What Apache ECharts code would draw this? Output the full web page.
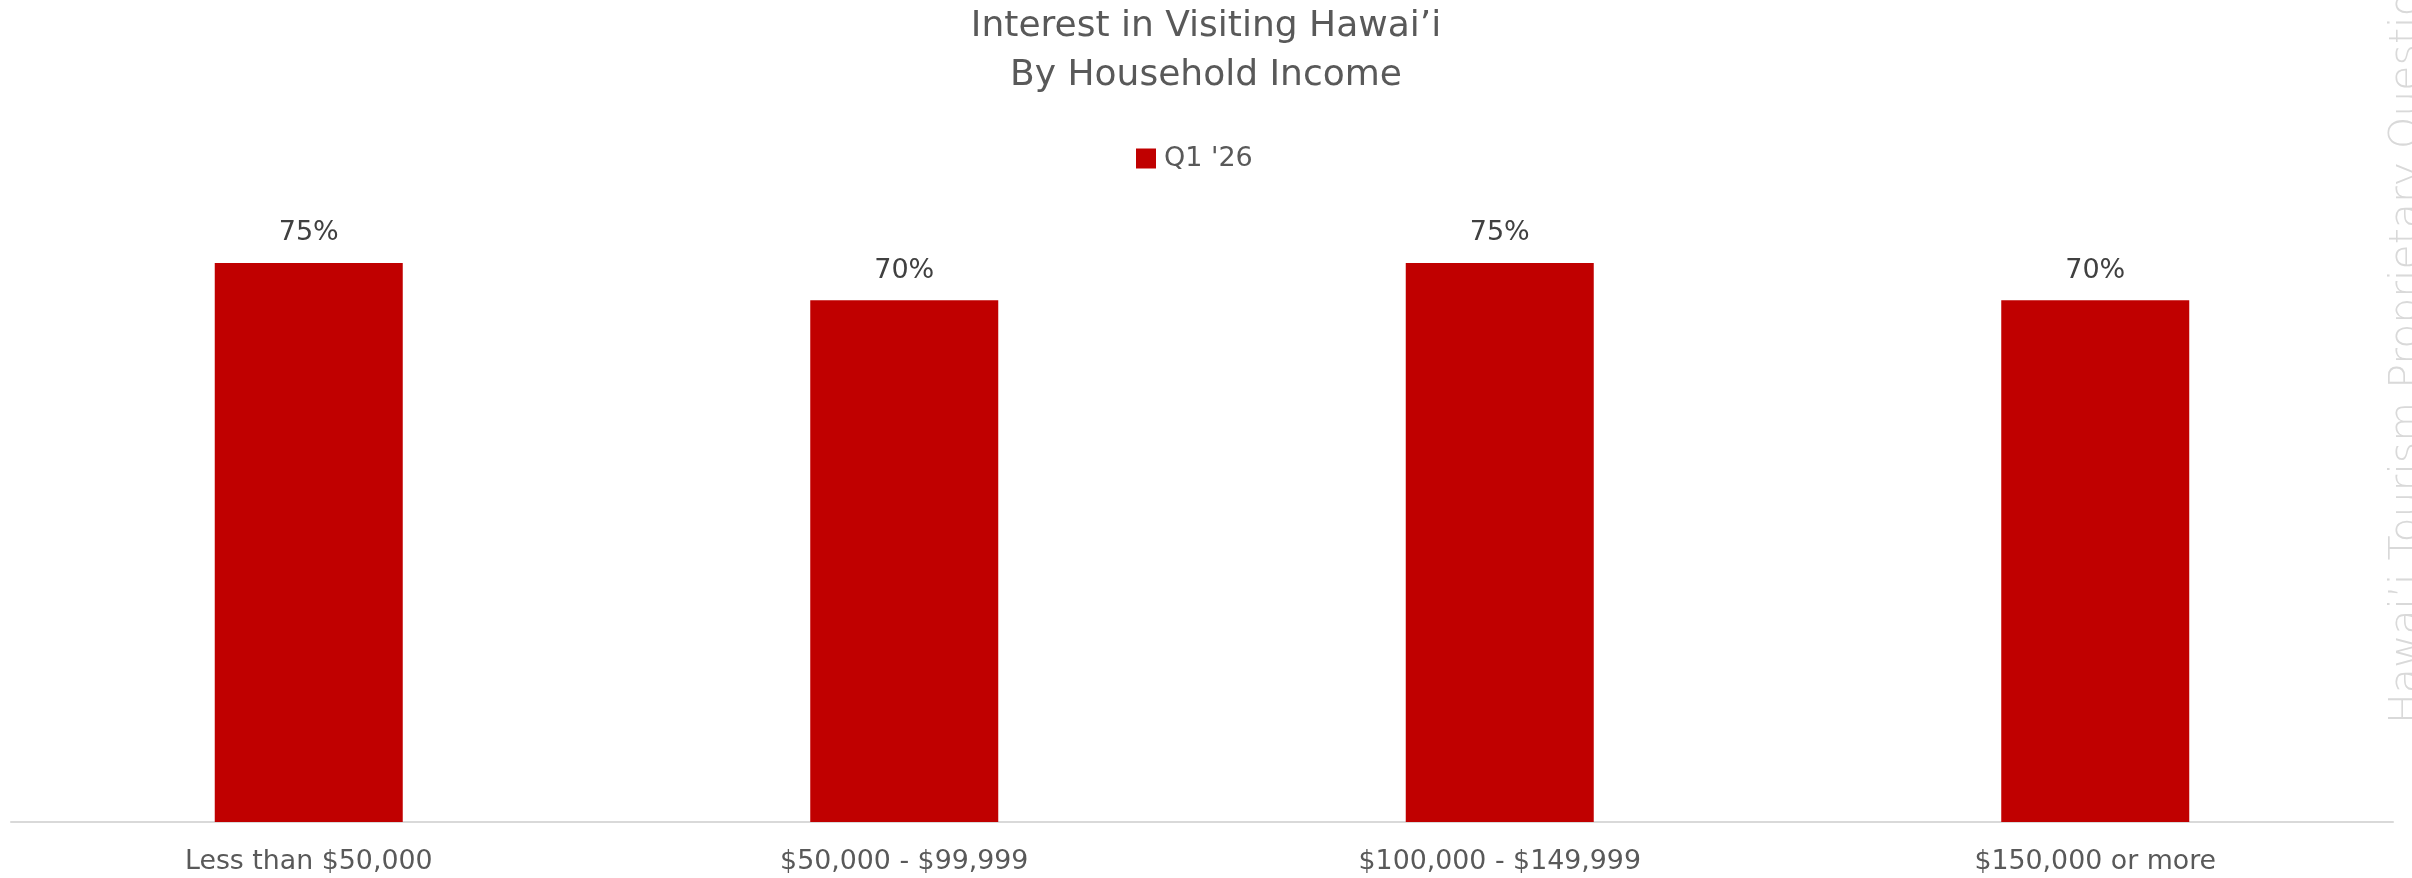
<!DOCTYPE html>
<html>
<head>
<meta charset="utf-8">
<script src="https://cdn.jsdelivr.net/npm/echarts@6/dist/echarts.min.js"></script>
<style>
  html, body { margin: 0; padding: 0; background: #ffffff; }
  #chart { width: 2412px; height: 878px; }
</style>
</head>
<body>
<div id="chart"></div>
<script>
// Income bands and share interested in visiting
const categories = ['Less than $50,000', '$50,000 - $99,999', '$100,000 - $149,999', '$150,000 or more'];
const seriesName = "Q1 '26";
const interest = [75, 70, 75, 70];

const FONT = '"DejaVu Sans", "Noto Sans", sans-serif';

const chart = echarts.init(document.getElementById('chart'), null, { renderer: 'canvas' });

chart.setOption({
  backgroundColor: '#ffffff',
  animation: false,
  title: {
    text: 'Interest in Visiting Hawai’i\nBy Household Income',
    left: 'center',
    top: -3,
    textStyle: {
      fontFamily: FONT,
      fontWeight: 'normal',
      fontSize: 36,
      lineHeight: 49,
      color: '#595959'
    }
  },
  legend: {
    data: [seriesName],
    top: 140,
    left: 1131,
    itemWidth: 20,
    itemHeight: 20,
    itemGap: 10,
    icon: 'rect',
    textStyle: {
      fontFamily: FONT,
      fontSize: 27,
      color: '#595959',
      padding: [0, 0, 0, 3]
    }
  },
  grid: {
    left: 11,
    right: 19,
    top: 225.7,
    bottom: 56,
    containLabel: false
  },
  xAxis: {
    type: 'category',
    data: categories,
    axisLine: { show: true, lineStyle: { color: '#d9d9d9', width: 2 } },
    axisTick: { show: false },
    axisLabel: {
      margin: 27,
      fontFamily: FONT,
      fontSize: 26.8,
      color: '#595959'
    }
  },
  yAxis: {
    type: 'value',
    min: 0,
    max: 80,
    show: false,
    splitLine: { show: false }
  },
  series: [{
    name: seriesName,
    type: 'bar',
    data: interest,
    barWidth: 188,
    itemStyle: { color: '#c00000' },
    label: {
      show: true,
      position: 'top',
      distance: 16,
      formatter: p => p.value + '%',
      fontFamily: FONT,
      fontSize: 27,
      color: '#404040'
    }
  }],
  graphic: [{
    type: 'text',
    x: 2428,
    y: 724,
    rotation: Math.PI / 2,
    style: {
      text: 'Hawai’i Tourism Proprietary Question',
      fontFamily: FONT,
      fontWeight: 200,
      fontSize: 41,
      fill: '#d9d9d9',
      textAlign: 'left',
      textVerticalAlign: 'bottom'
    }
  }]
});
</script>
</body>
</html>
